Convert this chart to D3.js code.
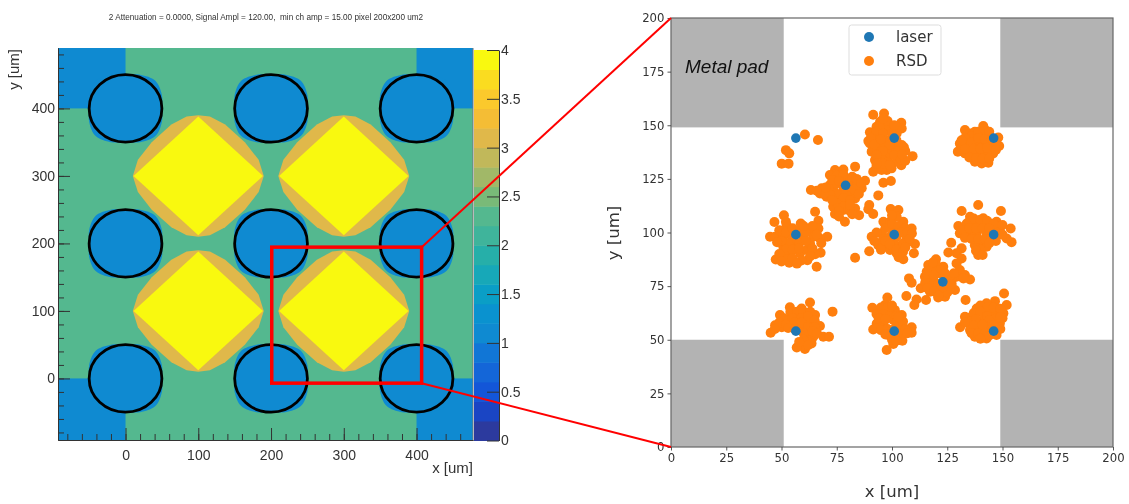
<!DOCTYPE html>
<html>
<head>
<meta charset="utf-8">
<style>
html,body{margin:0;padding:0;background:#fff;overflow:hidden}
svg{display:block;filter:blur(0.45px)}
.root text{font-family:"Liberation Sans",Arial,sans-serif;fill:#333}
.mpl text{font-family:"DejaVu Sans",sans-serif;fill:#333}
</style>
</head>
<body>
<svg id="chart" width="1129" height="504"></svg>
<script src="https://cdn.jsdelivr.net/npm/d3@7"></script>
<script>
// ---------- left panel data (um, amplitude levels) ----------
const titleText = "2 Attenuation = 0.0000, Signal Ampl = 120.00,  min ch amp = 15.00 pixel 200x200 um2";
const leftXTicks = [0,100,200,300,400];
const leftYTicks = [0,100,200,300,400];
const colorTicks = [0,0.5,1,1.5,2,2.5,3,3.5,4];
const colorLevels = ["#2c3a9e","#1a45c4","#1356d8","#1466d8","#1176d6","#0f8ad1","#0a92cf","#0a9ec6","#17a8b8","#26afa9","#3fb49b","#54b88f","#79ba78","#a1b868","#c1b85a","#e0b84a","#f4bd35","#fbc92c","#fadc20","#f9f90f"];
const backgroundLevel = 2.3;
const padLevel = 1.1;
const haloLevel = 1.1;
const rimLevel = 3.1;
const topLevel = 3.9;
const leftXDomain = [-92.8,477.6];
const leftYDomain = [-91.2,489.5];
const cornerRects = [[-92.8,0,400,489.5],[400,477.6,400,489.5],[-92.8,0,-91.2,0],[400,477.6,-91.2,0]];
const padCentersX = [0,200,400];
const padCentersY = [0,200,400];
const padRadius = 50;
const topBumps = [[0,405],[200,405],[400,405]];
const sideBumps = [[405,200],[-5,200]];
const haloQuarter = [[50,0],[50,20],[41,41],[20,50],[0,50]];
const diamondCentersX = [100,300];
const diamondCentersY = [100,300];
const rimQuarter = [[90,0],[83,24],[64,50],[37,76],[16,88],[0,90]];
const topQuarter = [[89,0],[0,88]];
const zoomBox = [201,407,-7,194.5];

// ---------- right panel data (um) ----------
const rightTicks = [0,25,50,75,100,125,150,175,200];
const metalPads = [[0,51,149,200],[149,200,149,200],[0,51,0,50],[149,200,0,50]];
const laserX = [56.5,101,146,79,56.5,101,146,123,56.5,101,146];
const laserY = [144,144,144,122,99,99,99,77,54,54,54];
const rsdA = [[60.6,145.7],[66.5,143.1],[52,138.4],[53.5,136.9],[50.1,132.1],[53.2,132.1]];
const rsdB = [[91.5,154.9],[96.4,155.5],[94.6,151.6],[104.2,151.2],[104.4,148.5],[90,146.7],[89.3,142.6],[102.1,146.2],[93,149.3],[97.6,147.8],[91.5,144.6],[96.1,143.1],[100.6,140],[105.4,139.7],[104.4,140.8],[109.3,135.6],[102.9,135.3],[104.2,131.4],[91.5,128.3],[97.6,129.1],[99.8,129.9],[92.3,133.8],[93,138.4],[96.1,135.3],[98.3,133],[90,141.5],[90.8,137.7],[94.6,146.2],[99.1,143.1],[94.6,140.8],[99.1,136.9],[102.1,133],[93,130.7],[95.3,129.1],[96.1,123.2],[99.5,124],
  [93,147],[96,150],[99,149],[102,149],[96,146],[100,146],[93,143],[97,140],[102,143],[90.5,144],[92,141],[96,138],[100,138.5],[103,138],[93,136],[96,132],[99,131.5],[93,132],[101,136],[104,134],[106,133.5],[95,143.5],[99,141],[106,138],[104.5,136.5],[98,152],[96,153],[101,150]];
const rsdC = [[133,147.8],[135.3,146.2],[141.3,149.6],[137.5,147],[142.8,146.2],[130.7,141.5],[129.8,137.7],[133,136.9],[137.5,133],[140.6,132.2],[143.6,132.5],[145.8,136.9],[148.1,144.3],[148.5,140.3],[145.8,140],[138.3,141.5],[141.3,141.5],[135.3,140],[139.8,136.9],[142.8,136.9],[136.8,136.9],[144.3,144.6],[140.6,145.4],[134.5,143.1],[132.3,140],
  [136,145],[139,147],[142,148],[144,147],[133,144],[136,142],[139,144],[142,143.5],[145,143],[131,139],[133,139],[137,139],[140,139],[143,139.5],[146,142],[135,135],[138,134.5],[141,134.5],[144,134.5],[131.5,143],[147,142],[147,138.5]];
const rsdD = [[74.2,129.1],[78,129.4],[83.3,130.7],[71.9,126.8],[76.5,126],[87.8,124.1],[86.3,120.6],[68.2,120.6],[63.3,119.8],[67.4,118.2],[70.4,116.7],[73.4,119.8],[81,124.4],[84,122.9],[81,118.2],[76.5,116.7],[73.4,112],[74.2,108.6],[78.7,105],[78,110.5],[83.3,111.2],[85.1,108.1],[79.5,113.6],[83.3,115.9],[71.9,122.1],[78.7,124.4],[75,122.9],[93.8,117.3],[89.7,112.8],[89.3,110.8],[91.5,108.6],
  [75,126.5],[78,127],[73,124.5],[76,124],[80,122],[83,120],[78,120],[75,118],[72,117.5],[78,116],[81,115],[75,113.5],[78,112],[81,110],[76,110],[82,126],[84,125],[86,123],[69,118],[66,119.5],[70,121],[73,115],[76,107.5],[81,113],[85,118],[82,108.5]];
const rsdE = [[46.8,104.9],[51.1,108],[65.2,109.7],[66.7,105.5],[44.8,98],[47.1,98],[52.3,103.5],[58.7,104.2],[62.9,101.9],[66.7,101.9],[70.7,98],[67.4,97.2],[47.4,87.4],[53.5,85.9],[61.7,87.1],[65.9,84],[67.7,90.6],[65.2,89.9],[50.8,98],[50.8,93.4],[53.8,90.3],[58.4,90.3],[61.4,91.8],[59.9,98],[64.4,98],[53.8,99.6],[56.9,94.9],[51.6,88.7],[62.9,94.9],
  [49,101],[52,100],[55,102],[58,100.5],[61,100],[64,103],[55,97],[58,95],[61,96],[53,95],[50,96],[48,95.5],[52,92],[55,92],[58,92.5],[64,92.5],[66,99],[55,88],[59,87],[63,89],[49,90],[50,86.5],[57,85.5],[68,95],[52,105],[60,103]];
const rsdF = [[99.4,110.9],[102.9,110.5],[96.1,105],[90.8,98],[93.8,94.1],[99.1,105],[105.1,105],[108.9,101.9],[110.4,94.6],[109.9,90.3],[105.1,87.5],[102.1,90.3],[97.6,93.4],[103.6,93.4],[106.6,98],[100.6,101.1],[95.3,99.6],[83.3,88.2],[89.7,91.3],[102.1,107.3],[99.1,91.8],[107.4,95.7],
  [100,108],[97,102],[100,104],[103,103],[106,102],[93,100],[92,96],[96,97],[99,98],[102,98],[104,100],[107,100],[109,99.5],[97,96],[101,95],[105,95],[108,97],[95,92],[99,94.5],[102,92],[105,91],[106,93],[103,88.5]];
const rsdG = [[131.5,110],[139,112.8],[149.3,110],[135.3,107.3],[141.3,106.6],[147.3,105],[153.7,101.9],[154.1,95.5],[130,103],[130.7,99.6],[133.8,104.2],[138.3,104.2],[144.3,104.2],[148.8,101.1],[151.9,97.2],[138.3,99.6],[142.8,99.6],[141.3,94.9],[137.5,94.1],[139,89.5],[142.8,93.4],[135.3,99.6],[146.6,101.1],
  [135,105],[137,106.5],[140,106],[143,105.5],[146,104],[150,103.5],[132,101],[135,102],[138,102],[141,102],[144,102],[147,99],[133,97.5],[136,97],[139,97],[142,97],[145,98],[150,99],[140,92],[144,95],[138,91.5],[147,96],[141,89.5]];
const rsdH = [[119.9,87.5],[116.4,84.8],[123.2,84],[125.5,79.4],[114.9,79.4],[113,74],[117.2,72.4],[120.9,69.7],[124,70.1],[128.5,73.2],[126.2,74],[118.7,77.8],[121.7,80.9],[115.7,81.7],[129.2,79.4],[107.7,78.6],[108.9,76.6],[106.5,70.4],[111.1,68.8],[110.1,66.2],[115.4,68.5],[126.8,95.2],[131.5,92.6],[125.5,90.7],[129.2,90.3],[131.5,87.9],[129.2,85.6],[130.7,82.5],[133,80.2],[135.3,78.1],[132.3,78.6],[133.3,68.5],
  [120,85],[118,83],[122,82.5],[116,80.5],[119,80],[124,81],[127,78],[115,76.5],[118,75],[121,76],[124,77],[116,74],[119,72.5],[122,73],[125,72],[123,74.5],[127,76],[128,81],[118.5,86],[121,70.5]];
const rsdI = [[62.9,67.4],[73.1,63.1],[53.8,65.1],[59.1,64.6],[49.3,61.5],[47.1,56.8],[45.1,53.3],[50.1,55.8],[65.2,61.5],[67.4,56.4],[62.9,59.2],[56.9,60.7],[53.1,59.2],[59.1,56.1],[62.1,52.2],[64.4,51.4],[63.6,48.3],[60.6,45.7],[56.9,46.4],[68.9,51.4],[71.5,51.4],[61.4,49.9],[56.1,56.8],
  [54,63],[57,63],[60,63],[63,63],[51,60],[55,60],[59,60],[62,61],[65,59],[49,58],[52,57],[56,58],[59,58],[62,56],[65,56],[47,55],[53,55.5],[56,55],[60,53],[64,54],[60,50],[62,47.5],[58,49],[66,53]];
const rsdJ = [[97.9,69.7],[91.1,64.9],[96.8,66.2],[101.3,63.8],[104.4,61.5],[93.1,57.6],[91.5,54.8],[96.1,57.6],[100.6,59.2],[103.6,56.8],[108.9,55.8],[108.9,53.3],[98.3,52.2],[104.4,52.2],[104.7,49.5],[100.6,48],[97.6,45.2],[102.1,52.2],[99.1,62.3],
  [95,65],[98,65],[100,66],[93,62],[96,62],[99,61],[102,61],[94,60],[97,59.5],[102,58],[105,58.5],[93,55.5],[95,54.5],[98,55],[101,55],[104,54.5],[106,55],[97,52.5],[100,50],[102,49.5],[103,60.5],[107,53]];
const rsdK = [[150.7,71.6],[146.6,68],[151.9,66.2],[142.8,67],[138.3,64.6],[150.4,62.3],[136,60.7],[133,60.7],[130.8,55.8],[135.3,54.5],[148.8,57.6],[147.3,52.2],[142.8,50.6],[137.5,51.4],[141.3,59.2],[145.8,62.3],[139.8,56.1],[144.3,56.1],[142.8,63.8],
  [140,66],[143,65],[146,65],[149,64.5],[137,62.5],[140,63],[143,61],[147,60],[150,60],[135,58.5],[138,59.5],[144,59],[149,60.5],[137,56.5],[141,57],[146,56.5],[136,53],[139,53],[142,53],[145,53],[149,55],[140,50.5],[144,52],[147.5,54.5],[133,58]];
const rsdPoints = [...rsdA,...rsdB,...rsdC,...rsdD,...rsdE,...rsdF,...rsdG,...rsdH,...rsdI,...rsdJ,...rsdK];
const legendItems = ["laser","RSD"];
const seriesColors = ["#1f77b4","#ff7f0e"];
const padLabel = "Metal pad";

// ---------- scales ----------
const svg = d3.select("#chart");
const lx = d3.scaleLinear().domain(leftXDomain).range([58,473]);
const ly = d3.scaleLinear().domain(leftYDomain).range([440,48]);
const cy = d3.scaleLinear().domain([0,4]).range([440.5,50]);
const rx = d3.scaleLinear().domain([0,200]).range([671,1113]);
const ry = d3.scaleLinear().domain([0,200]).range([447,18]);
const levelOf = d3.scaleQuantize().domain([0,4]).range(colorLevels);

// ---------- left panel ----------
const root = svg.append("g").attr("class","root");
root.append("text").attr("x",266).attr("y",20).attr("text-anchor","middle")
  .attr("xml:space","preserve").style("white-space","pre")
  .style("font-size","8.2px").text(titleText);

const heat = root.append("g");
heat.append("rect").attr("x",lx(leftXDomain[0])).attr("y",ly(leftYDomain[1]))
  .attr("width",lx(leftXDomain[1])-lx(leftXDomain[0])).attr("height",ly(leftYDomain[0])-ly(leftYDomain[1])).attr("fill",levelOf(backgroundLevel));
heat.selectAll(".corner").data(cornerRects).join("rect").attr("class","corner")
  .attr("x",d=>lx(d[0])).attr("y",d=>ly(d[3]))
  .attr("width",d=>lx(d[1])-lx(d[0])).attr("height",d=>ly(d[2])-ly(d[3]))
  .attr("fill",levelOf(padLevel));

const mirrored = q => [
  ...q.map(([a,b])=>[a,b]),
  ...q.slice().reverse().slice(1).map(([a,b])=>[-a,b]),
  ...q.slice(1).map(([a,b])=>[-a,-b]),
  ...q.slice().reverse().slice(1,-1).map(([a,b])=>[a,-b])
];
const polyPath = (cxv,cyv,q) => d3.line().x(d=>lx(cxv+d[0])).y(d=>ly(cyv+d[1]))(mirrored(q))+"Z";
const haloPath = (cxv,cyv,q) => d3.line().x(d=>lx(cxv+d[0])).y(d=>ly(cyv+d[1])).curve(d3.curveCatmullRomClosed)(mirrored(q));
const padGrid = d3.cross(padCentersX,padCentersY);

heat.selectAll(".halo").data(padGrid).join("path").attr("class","halo")
  .attr("d",d=>haloPath(d[0],d[1],haloQuarter)).attr("fill",levelOf(haloLevel));
heat.selectAll(".bump").data([...topBumps,...sideBumps]).join("ellipse").attr("class","bump")
  .attr("cx",d=>lx(d[0])).attr("cy",d=>ly(d[1]))
  .attr("rx",lx(padRadius)-lx(0)-6).attr("ry",ly(0)-ly(padRadius)-4)
  .attr("fill",levelOf(haloLevel));

const diamondGrid = d3.cross(diamondCentersX,diamondCentersY);
heat.selectAll(".rim").data(diamondGrid).join("path").attr("class","rim")
  .attr("d",d=>polyPath(d[0],d[1],rimQuarter)).attr("fill",levelOf(rimLevel));
heat.selectAll(".top").data(diamondGrid).join("path").attr("class","top")
  .attr("d",d=>polyPath(d[0],d[1],topQuarter)).attr("fill",levelOf(topLevel));

heat.selectAll(".pad").data(padGrid).join("ellipse").attr("class","pad")
  .attr("cx",d=>lx(d[0])).attr("cy",d=>ly(d[1]))
  .attr("rx",lx(padRadius)-lx(0)).attr("ry",ly(0)-ly(padRadius))
  .attr("fill",levelOf(padLevel)).attr("stroke","#000").attr("stroke-width",2.8);

// axes of the heat map
const styleAxis = g => { g.selectAll("path,line").attr("stroke","#333").attr("stroke-width",1);
  g.selectAll("text").attr("fill","#333").style("font-size","14px").style("font-family","'Liberation Sans',Arial,sans-serif"); };
const lxMinor = d3.range(-80,478,20);
const lyMinor = d3.range(-80,489,20);
root.append("g").attr("transform",`translate(0,${ly(leftYDomain[0])})`)
  .call(d3.axisBottom(lx).tickValues(lxMinor).tickSize(-6).tickFormat("").tickSizeOuter(0)).call(styleAxis);
root.append("g").attr("transform",`translate(0,${ly(leftYDomain[0])})`)
  .call(d3.axisBottom(lx).tickValues(leftXTicks).tickSize(-12).tickPadding(10).tickSizeOuter(0)).call(styleAxis);
root.append("g").attr("transform",`translate(${lx(leftXDomain[0])},0)`)
  .call(d3.axisLeft(ly).tickValues(lyMinor).tickSize(-6).tickFormat("").tickSizeOuter(0)).call(styleAxis);
root.append("g").attr("transform",`translate(${lx(leftXDomain[0])},0)`)
  .call(d3.axisLeft(ly).tickValues(leftYTicks).tickSize(-12).tickPadding(3).tickSizeOuter(0)).call(styleAxis);
root.append("line").attr("x1",lx(leftXDomain[1])).attr("x2",lx(leftXDomain[1])).attr("y1",ly(leftYDomain[1])).attr("y2",ly(leftYDomain[0])).attr("stroke","#777");
root.append("text").attr("x",473).attr("y",473).attr("text-anchor","end").style("font-size","15px").text("x [um]");
root.append("text").attr("transform","translate(19,49) rotate(-90)").attr("text-anchor","end").style("font-size","15px").text("y [um]");

// colour bar
const step = 4/colorLevels.length;
const cbX = 474, cbW = 25;
root.selectAll(".lvl").data(colorLevels).join("rect").attr("class","lvl")
  .attr("x",cbX).attr("width",cbW)
  .attr("y",(d,i)=>cy((i+1)*step)).attr("height",(d,i)=>cy(i*step)-cy((i+1)*step)+0.5)
  .attr("fill",d=>d);
root.append("g").attr("transform",`translate(${cbX+cbW},0)`)
  .call(d3.axisRight(cy).tickValues(colorTicks).tickFormat(d3.format("~g")).tickSize(-12).tickPadding(2).tickSizeOuter(0)).call(styleAxis)
  .call(g=>g.select(".domain").attr("stroke","#333"));

// ---------- right panel ----------
const mpl = svg.append("g").attr("class","mpl");
mpl.selectAll(".metal").data(metalPads).join("rect").attr("class","metal")
  .attr("x",d=>rx(d[0])).attr("y",d=>ry(d[3]))
  .attr("width",d=>rx(d[1])-rx(d[0])).attr("height",d=>ry(d[2])-ry(d[3]))
  .attr("fill","#b3b3b3");
mpl.selectAll(".rsd").data(rsdPoints).join("circle").attr("class","rsd")
  .attr("cx",d=>rx(d[0])).attr("cy",d=>ry(d[1])).attr("r",5).attr("fill",seriesColors[1]);
mpl.selectAll(".laser").data(laserX).join("circle").attr("class","laser")
  .attr("cx",d=>rx(d)).attr("cy",(d,i)=>ry(laserY[i])).attr("r",4.8).attr("fill",seriesColors[0]);
mpl.append("rect").attr("x",rx(0)).attr("y",ry(200)).attr("width",rx(200)-rx(0)).attr("height",ry(0)-ry(200))
  .attr("fill","none").attr("stroke","#666").attr("stroke-width",1.2);
const styleMpl = g => { g.select(".domain").remove();
  g.selectAll("line").attr("stroke","#444").attr("stroke-width",0.9);
  g.selectAll("text").attr("fill","#333").style("font-size","11.7px").style("font-family","'DejaVu Sans',sans-serif"); };
mpl.append("g").attr("transform",`translate(0,${ry(0)})`)
  .call(d3.axisBottom(rx).tickValues(rightTicks).tickSize(3.5).tickPadding(3)).call(styleMpl);
mpl.append("g").attr("transform",`translate(${rx(0)},0)`)
  .call(d3.axisLeft(ry).tickValues(rightTicks).tickSize(3.5).tickPadding(3)).call(styleMpl);
mpl.append("text").attr("x",892).attr("y",497).attr("text-anchor","middle").style("font-size","16.5px").text("x [um]");
mpl.append("text").attr("transform","translate(619,233) rotate(-90)").attr("text-anchor","middle").style("font-size","16.5px").text("y [um]");
mpl.append("text").attr("x",685).attr("y",73).style("font-family","'Liberation Sans',Arial,sans-serif").style("font-style","italic")
  .style("font-size","19px").style("fill","#111").text(padLabel);
// legend
const legend = mpl.append("g");
legend.append("rect").attr("x",849).attr("y",25).attr("width",92).attr("height",50).attr("rx",2.5)
  .attr("fill","#fff").attr("fill-opacity",0.8).attr("stroke","#ddd");
legend.selectAll(".li").data(legendItems).join("g").attr("class","li")
  .attr("transform",(d,i)=>`translate(869,${37+i*24})`)
  .each(function(d,i){
    d3.select(this).append("circle").attr("r",5).attr("fill",seriesColors[i]);
    d3.select(this).append("text").attr("x",27).attr("y",5).style("font-size","15px").text(d);
  });

// ---------- zoom annotation (drawn on top of both panels) ----------
const rr = svg.append("g").attr("fill","none").attr("stroke","#f00");
rr.append("rect").attr("x",lx(zoomBox[0])).attr("y",ly(zoomBox[3]))
  .attr("width",lx(zoomBox[1])-lx(zoomBox[0])).attr("height",ly(zoomBox[2])-ly(zoomBox[3]))
  .attr("stroke-width",3.5);
rr.append("line").attr("x1",lx(zoomBox[1])).attr("y1",ly(zoomBox[3])).attr("x2",rx(0)).attr("y2",ry(200)).attr("stroke-width",2);
rr.append("line").attr("x1",lx(zoomBox[1])).attr("y1",ly(zoomBox[2])).attr("x2",rx(0)).attr("y2",ry(0)).attr("stroke-width",2);
</script>
</body>
</html>
